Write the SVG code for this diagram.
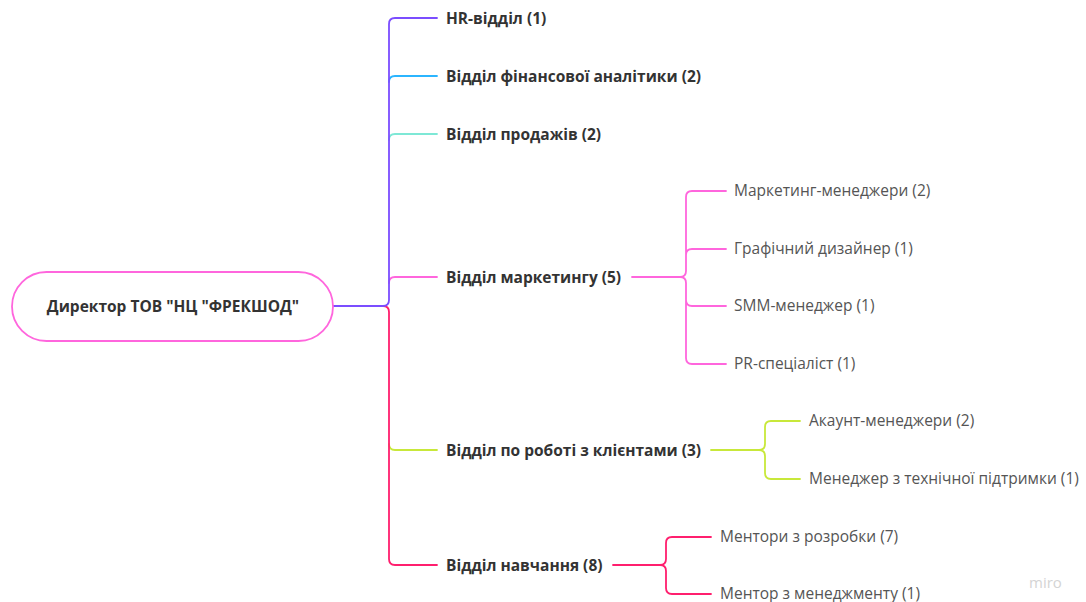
<svg xmlns="http://www.w3.org/2000/svg" width="1086" height="602" viewBox="0 0 1086 602">
<style>
.b{font-family:"Open Sans","Liberation Sans",sans-serif;font-weight:700;font-size:15.5px;fill:#333}
.r{font-family:"Open Sans","Liberation Sans",sans-serif;font-weight:400;font-size:15.5px;fill:#555}
.c{fill:none;stroke-width:1.8;stroke-linecap:round;stroke-linejoin:round}
</style>
<rect width="1086" height="602" fill="#fff"/>
<g id="connectors">
<path class="c" stroke="#c8e83a" d="M389,444 Q389,450 395,450 H437"/>
<path class="c" stroke="#ff1f6e" d="M383,306 Q389,306 389,312 V559 Q389,565 395,565 H437"/>
<path class="c" stroke="#2bb5ff" d="M389,82 Q389,76 395,76 H437"/>
<path class="c" stroke="#7ee8d6" d="M389,140 Q389,134 395,134 H437"/>
<path class="c" stroke="#ff66dd" d="M389,283 Q389,277 395,277 H437"/>
<path class="c" stroke="#7b4dff" d="M333,306 H383 Q389,306 389,300 V24 Q389,18 395,18 H437"/>
<path class="c" stroke="#ff66dd" d="M632,277 H680 Q686,277 686,271 V197 Q686,191 692,191 H726 M686,255 Q686,249 692,249 H726 M680,277 Q686,277 686,283 V358 Q686,364 692,364 H726 M686,300 Q686,306 692,306 H726"/>
<path class="c" stroke="#c8e83a" d="M711,450 H759 Q765,450 765,444 V427 Q765,421 771,421 H800 M759,450 Q765,450 765,456 V473 Q765,479 771,479 H800"/>
<path class="c" stroke="#ff1f6e" d="M613,565 H660 Q666,565 666,559 V543 Q666,537 672,537 H711 M660,565 Q666,565 666,571 V588 Q666,594 672,594 H711"/>
</g>
<g id="root">
<rect x="12" y="272" width="321" height="69" rx="34.5" fill="#fff" stroke="#ff66dd" stroke-width="1.8"/>
<text class="b" x="173" y="311.5" text-anchor="middle">Директор ТОВ "НЦ "ФРЕКШОД"</text>
</g>
<g id="hr"><text class="b" x="446" y="23.5">HR-відділ (1)</text></g>
<g id="fin"><text class="b" x="446" y="81.5">Відділ фінансової аналітики (2)</text></g>
<g id="sales"><text class="b" x="446" y="139.5">Відділ продажів (2)</text></g>
<g id="marketing"><text class="b" x="446" y="282.5">Відділ маркетингу (5)</text></g>
<g id="clients"><text class="b" x="446" y="455.5">Відділ по роботі з клієнтами (3)</text></g>
<g id="training"><text class="b" x="446" y="570.5">Відділ навчання (8)</text></g>
<g id="m1"><text class="r" x="734" y="196">Маркетинг-менеджери (2)</text></g>
<g id="m2"><text class="r" x="734" y="254">Графічний дизайнер (1)</text></g>
<g id="m3"><text class="r" x="734" y="311">SMM-менеджер (1)</text></g>
<g id="m4"><text class="r" x="734" y="369">PR-спеціаліст (1)</text></g>
<g id="c1"><text class="r" x="809" y="426">Акаунт-менеджери (2)</text></g>
<g id="c2"><text class="r" x="809" y="484">Менеджер з технічної підтримки (1)</text></g>
<g id="t1"><text class="r" x="720" y="542">Ментори з розробки (7)</text></g>
<g id="t2"><text class="r" x="720" y="599">Ментор з менеджменту (1)</text></g>
<text x="1029" y="588" font-family="Open Sans, Liberation Sans, sans-serif" font-size="15" fill="#d4d4d4">miro</text>
</svg>
